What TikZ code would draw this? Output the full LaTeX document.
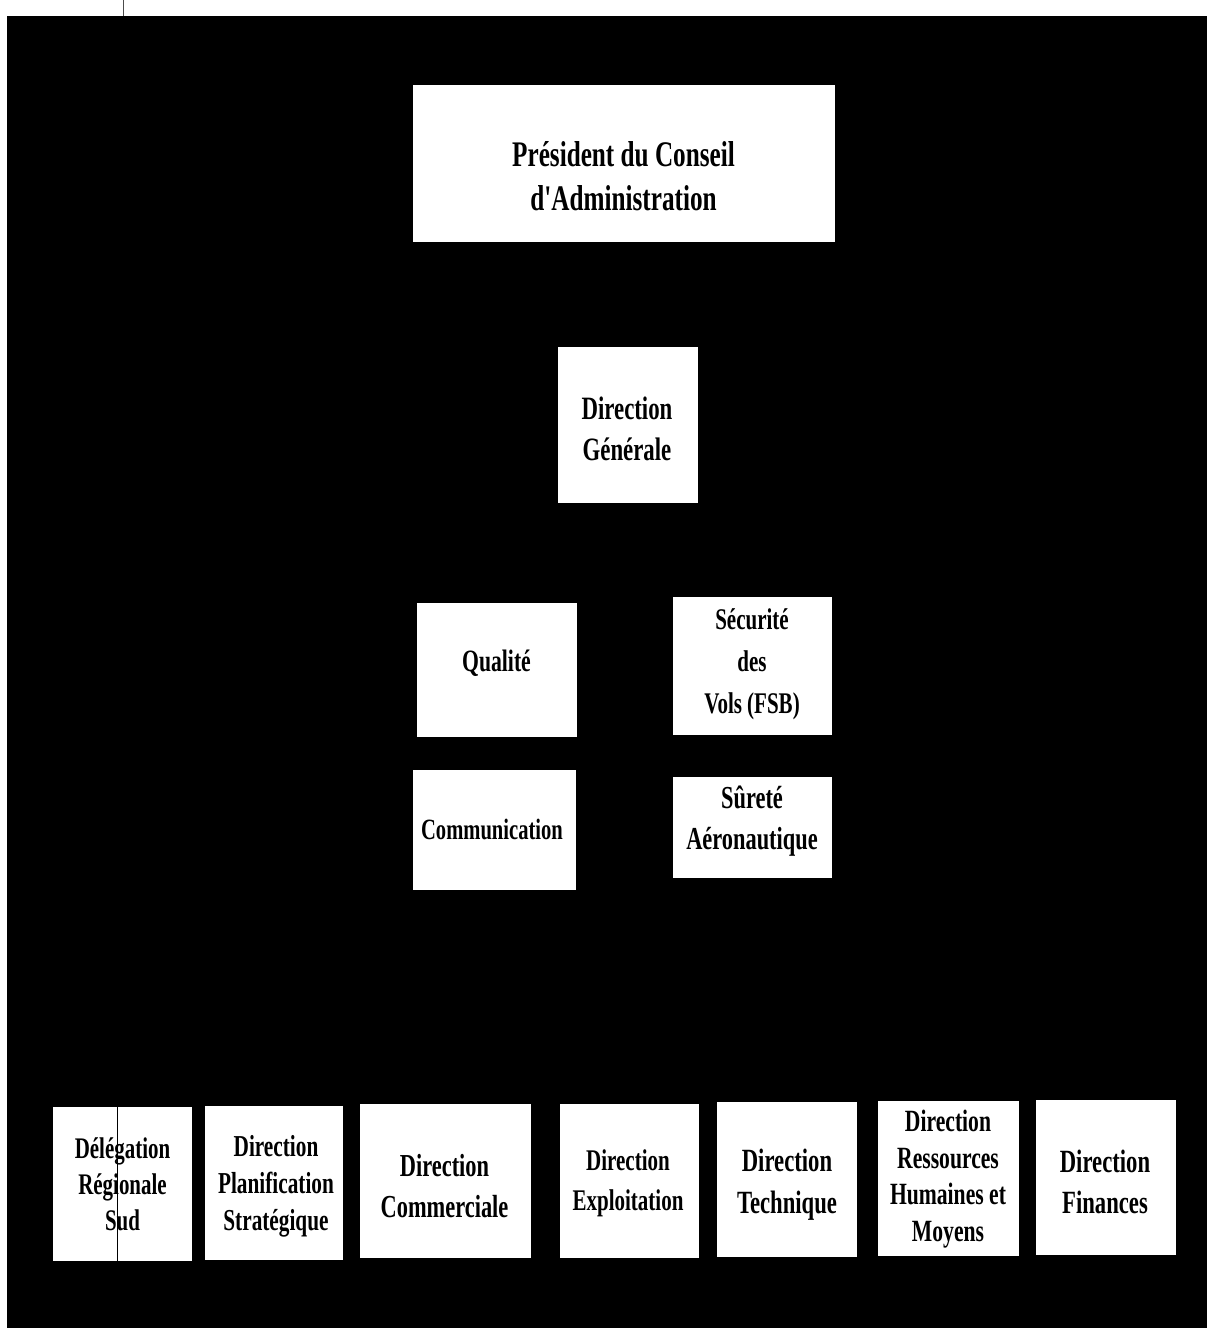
\documentclass[tikz,border=0pt]{standalone}
\usepackage{fontspec}
\newfontfamily\cond{Liberation Serif}[FakeStretch=0.7]
\begin{document}
\begin{tikzpicture}[x=1pt,y=-1pt,
  box/.style={rectangle,fill=white,draw=none,inner sep=0pt},
  txt/.style={inner sep=0pt,align=center,text=black}]
\useasboundingbox (0,0) rectangle (1207,1328);
\fill[white] (0,0) rectangle (1207,1328);
\fill[black] (7,16) rectangle (1207,1328);
\draw[black!70,line width=0.8pt] (123,0) -- (123,16);
% top boxes
\node[box,minimum width=422pt,minimum height=157pt] (pres) at (624,163.5) {};
\node[txt,font=\cond\bfseries\fontsize{36}{44}\selectfont] (presT) at (623.5,176) {Président du Conseil\\d'Administration};
\node[box,minimum width=140pt,minimum height=156pt] (dg) at (628,425) {};
\node[txt,font=\cond\bfseries\fontsize{32.6}{41}\selectfont] (dgT) at (627,429) {Direction\\Générale};
\node[box,minimum width=160pt,minimum height=134pt] (qual) at (497,670) {};
\node[txt,font=\cond\bfseries\fontsize{31}{41}\selectfont] (qualT) at (496.5,663) {Qualité};
\node[box,minimum width=159pt,minimum height=138pt] (secu) at (752.5,666) {};
\node[txt,font=\cond\bfseries\fontsize{30}{42}\selectfont] (secuT) at (752,664) {Sécurité\\des\\Vols (FSB)};
\node[box,minimum width=163pt,minimum height=120pt] (comm) at (494.5,830) {};
\node[txt,font=\cond\bfseries\fontsize{29.4}{41}\selectfont] (commT) at (492,829) {Communication};
\node[box,minimum width=159pt,minimum height=101pt] (sure) at (752.5,827.5) {};
\node[txt,font=\cond\bfseries\fontsize{32}{41}\selectfont] (sureT) at (752,821) {Sûreté\\Aéronautique};
% bottom row
\node[box,minimum width=139pt,minimum height=154pt] (dele) at (122.5,1184) {};
\draw[black,line width=1pt] (117,1107) -- (117,1261);
\node[txt,font=\cond\bfseries\fontsize{29.9}{36}\selectfont] (deleT) at (122.5,1184) {Délégation\\Régionale\\Sud};
\node[box,minimum width=138pt,minimum height=154pt] (plan) at (274,1183) {};
\node[txt,font=\cond\bfseries\fontsize{30.4}{37}\selectfont] (planT) at (276,1186) {Direction\\Planification\\Stratégique};
\node[box,minimum width=171pt,minimum height=154pt] (comc) at (445.5,1181) {};
\node[txt,font=\cond\bfseries\fontsize{32}{41}\selectfont] (comcT) at (444.5,1186) {Direction\\Commerciale};
\node[box,minimum width=139pt,minimum height=154pt] (expl) at (629.5,1181) {};
\node[txt,font=\cond\bfseries\fontsize{30}{40}\selectfont] (explT) at (628,1183) {Direction\\Exploitation};
\node[box,minimum width=140pt,minimum height=155pt] (tech) at (787,1179.5) {};
\node[txt,font=\cond\bfseries\fontsize{32.4}{42}\selectfont] (techT) at (787,1185) {Direction\\Technique};
\node[box,minimum width=141pt,minimum height=155pt] (rh) at (948.5,1178.5) {};
\node[txt,font=\cond\bfseries\fontsize{30.9}{36.5}\selectfont] (rhT) at (948,1179) {Direction\\Ressources\\Humaines et\\Moyens};
\node[box,minimum width=140pt,minimum height=155pt] (fin) at (1106,1177.5) {};
\node[txt,font=\cond\bfseries\fontsize{32.4}{41}\selectfont] (finT) at (1105,1182) {Direction\\Finances};
\end{tikzpicture}
\end{document}
